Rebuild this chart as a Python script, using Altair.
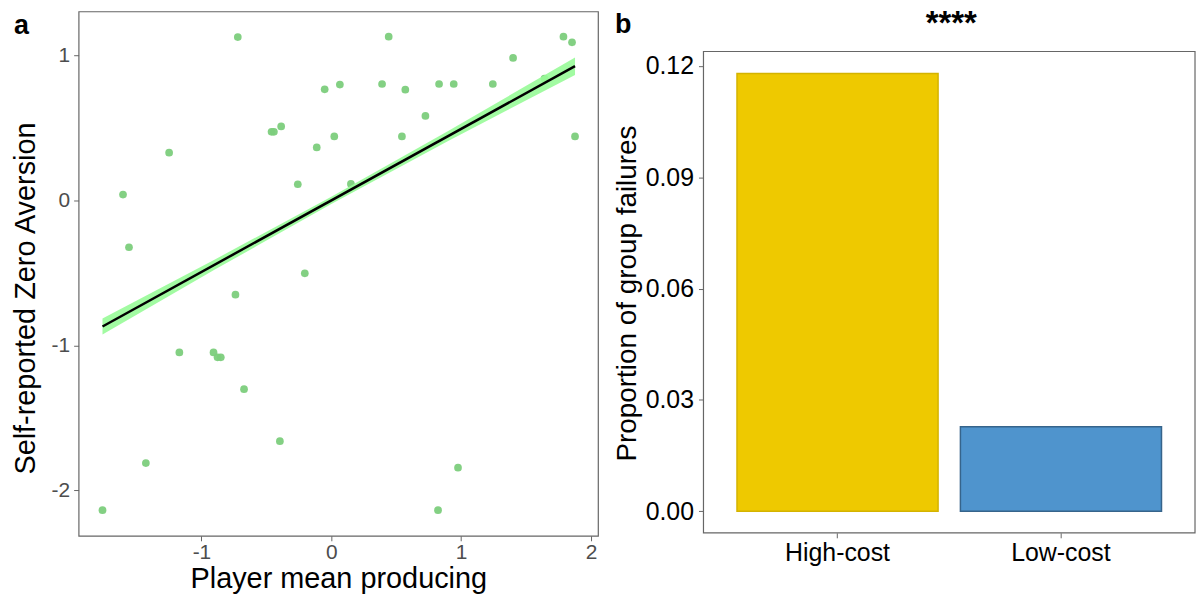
import altair as alt
import pandas as pd

FONT = "Liberation Sans"

# ---------------- Panel a data ----------------
player_mean = [-0.720, -1.249, -1.604, -1.558, -0.460, -0.442, -0.386, -0.051, 0.066,
               -0.112, 0.023, -0.258, -0.204, 0.442, 0.391, 0.570, 0.830, 0.943,
               1.244, 1.400, 1.642, 1.788, 1.854, 1.877, 0.725, 0.544, 0.151,
               -0.738, -1.170, -0.907, -0.876, -0.851, -0.672, -0.396, -1.428,
               -1.762, 0.976, 0.822]
zero_aversion = [1.128, 0.330, 0.041, -0.323, 0.474, 0.474, 0.511, 0.767, 0.800,
                 0.366, 0.442, 0.112, -0.503, 1.131, 0.804, 0.765, 0.804, 0.804,
                 0.804, 0.984, 0.842, 1.131, 1.092, 0.442, 0.584, 0.442, 0.114,
                 -0.650, -1.049, -1.049, -1.083, -1.083, -1.303, -1.662, -1.813,
                 -2.138, -1.845, -2.138]

fit_x = [-1.762, 1.877]
fit_y = [-0.870, 0.927]

band_x = [-1.762, -0.9, 0.0, 0.9, 1.877]
band_lo = [-0.925, -0.479, -0.025, 0.410, 0.867]
band_hi = [-0.815, -0.409, 0.025, 0.480, 0.987]

# ---------------- Panel b data ----------------
conditions = ["High-cost", "Low-cost"]
proportions = [0.118, 0.0228]
fills = ["#EEC900", "#4F94CD"]
strokes = ["#D4B300", "#36648B"]
panel_top = [0.1239]

LW, LH = 522, 527
RW, RH = 494, 524

scatter_df = pd.DataFrame({"x": player_mean, "y": zero_aversion})
fit_df = pd.DataFrame({"x": fit_x, "y": fit_y})
band_df = pd.DataFrame({"x": band_x, "lo": band_lo, "hi": band_hi})
bar_df = pd.DataFrame({"cond": conditions, "prop": proportions})

xs = alt.Scale(domain=[-1.946, 2.054], nice=False, zero=False)
ys = alt.Scale(domain=[-2.315, 1.305], nice=False, zero=False)

x_axis = alt.Axis(title="Player mean producing", values=[-1, 0, 1, 2],
                  labelExpr="toString(datum.value)", grid=False, domain=False,
                  tickColor="#666666", tickSize=5, labelFontSize=21,
                  labelColor="#4D4D4D", labelPadding=1, titleFontSize=29,
                  titleColor="black", titleFontWeight="normal", titlePadding=2,
                  labelFont=FONT, titleFont=FONT)
y_axis = alt.Axis(title="Self-reported Zero Aversion", values=[-2, -1, 0, 1],
                  labelExpr="toString(datum.value)", grid=False, domain=False,
                  tickColor="#666666", tickSize=5, labelFontSize=21,
                  labelColor="#4D4D4D", labelPadding=4, titleFontSize=29,
                  titleColor="black", titleFontWeight="normal", titlePadding=11,
                  titleY=288, labelFont=FONT, titleFont=FONT)

points = alt.Chart(scatter_df).mark_circle(size=60, color="#7CCD7C", opacity=0.95).encode(
    x=alt.X("x:Q", scale=xs, axis=x_axis),
    y=alt.Y("y:Q", scale=ys, axis=y_axis),
)
band = alt.Chart(band_df).mark_area(color="#98FB98", opacity=0.9).encode(
    x=alt.X("x:Q", scale=xs),
    y=alt.Y("lo:Q", scale=ys),
    y2="hi:Q",
)
line = alt.Chart(fit_df).mark_line(color="black", strokeWidth=2.5).encode(
    x=alt.X("x:Q", scale=xs),
    y=alt.Y("y:Q", scale=ys),
)
label_a = alt.Chart(pd.DataFrame({"t": ["a"]})).mark_text(
    fontSize=27, fontWeight="bold", align="left", baseline="alphabetic", font=FONT,
    color="black").encode(text="t:N", x=alt.value(-65), y=alt.value(23))

left = alt.layer(points, band, line, label_a).properties(width=LW, height=LH)

yb = alt.Scale(domain=[-0.0058, 0.1347], nice=False, zero=False)

bars = alt.Chart(bar_df).mark_bar(strokeWidth=1.5).encode(
    x=alt.X("cond:N", sort=conditions,
            scale=alt.Scale(paddingInner=0.1, paddingOuter=0.15),
            axis=alt.Axis(title=None, labelAngle=0, domain=False, tickColor="#666666",
                          tickSize=5, labelFontSize=25, labelColor="black",
                          labelPadding=3, labelFont=FONT)),
    y=alt.Y("prop:Q", scale=yb,
            axis=alt.Axis(title="Proportion of group failures",
                          values=[0, 0.03, 0.06, 0.09, 0.12], format=".2f",
                          grid=False, domain=False, tickColor="#666666", tickSize=5,
                          labelFontSize=25, labelColor="black", labelPadding=5,
                          titleFontSize=28, titleColor="black", titleFontWeight="normal",
                          titlePadding=4, titleY=283, labelFont=FONT, titleFont=FONT)),
    y2=alt.datum(0),
    color=alt.Color("cond:N", scale=alt.Scale(domain=conditions, range=fills), legend=None),
    stroke=alt.Stroke("cond:N", scale=alt.Scale(domain=conditions, range=strokes), legend=None),
)
frame = alt.Chart(pd.DataFrame({"top": panel_top})).mark_rect(
    fillOpacity=0, stroke="#666666", strokeWidth=1.2).encode(
    x=alt.value(0), x2=alt.value(RW), y=alt.Y("top:Q", scale=yb), y2=alt.value(RH))
label_b = alt.Chart(pd.DataFrame({"t": ["b"]})).mark_text(
    fontSize=27, fontWeight="bold", align="left", baseline="alphabetic", font=FONT,
    color="black").encode(text="t:N", x=alt.value(-89), y=alt.value(22))
stars = alt.Chart(pd.DataFrame({"t": ["****"]})).mark_text(
    fontSize=33, fontWeight="bold", align="center", baseline="alphabetic", font=FONT,
    color="black").encode(text="t:N", x=alt.value(249), y=alt.value(23))

right = alt.layer(bars, frame, label_b, stars).properties(
    width=RW, height=RH, view=alt.ViewBackground(strokeOpacity=0))

chart = alt.hconcat(left, right, spacing=14).properties(
    padding={"left": 10, "top": 7, "right": 1, "bottom": 0},
    background="white",
).configure_view(stroke="#666666", strokeWidth=1.2)

chart.save("out.html", embed_options={"renderer": "svg", "actions": False})
